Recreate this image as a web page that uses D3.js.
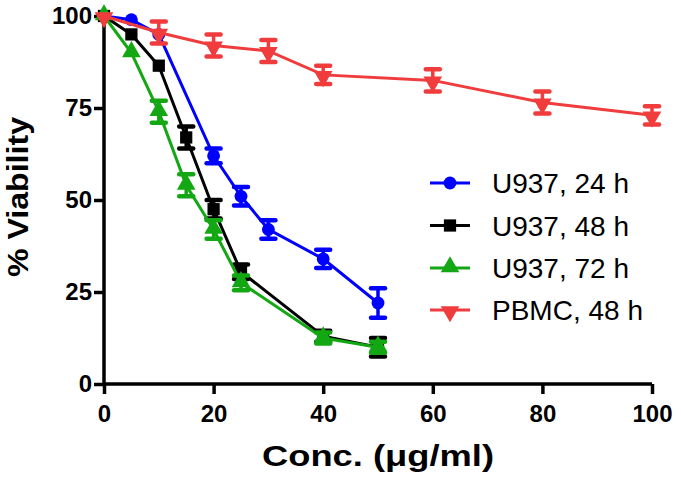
<!DOCTYPE html>
<html><head><meta charset="utf-8">
<script src="https://cdn.jsdelivr.net/npm/d3@7"></script>
<style>body{margin:0;background:#fff}svg{display:block}text{font-family:"Liberation Sans",Arial,sans-serif}</style>
</head><body>
<svg id="c" width="681" height="480"></svg>
<script>
const seriesNames = ["U937, 24 h", "U937, 48 h", "U937, 72 h", "PBMC, 48 h"];
const conc24 = [0, 5, 10, 20, 25, 30, 40, 50];
const via24 = [100, 99, 95, 62, 51, 42, 34, 22];
const err24 = [0, 0, 0, 2, 2.5, 2.5, 2.5, 4];
const conc48 = [0, 5, 10, 15, 20, 25, 40, 50];
const via48 = [100, 95, 86.5, 67, 47.5, 30.5, 13, 10];
const err48 = [0, 0, 0, 3, 2.5, 2, 1.5, 2.5];
const conc72 = [0, 5, 10, 15, 20, 25, 40, 50];
const via72 = [100, 90, 74, 54, 42, 27.5, 12.5, 10];
const err72 = [0, 0, 3, 3, 2.5, 2, 1.5, 1.5];
const concP = [0, 10, 20, 30, 40, 60, 80, 100];
const viaP = [100, 95.5, 92, 90.5, 84, 82.5, 76.5, 73];
const errP = [0, 3, 3, 3, 2.5, 3, 3, 2.5];
const xTicks = [0, 20, 40, 60, 80, 100];
const yTicks = [0, 25, 50, 75, 100];

const colors = ["#0000ff", "#000000", "#13a813", "#f03c3c"];
const symbols = [d3.symbolCircle, d3.symbolSquare, d3.symbolTriangle, d3.symbolTriangle];
const symSizes = [130, 150, 150, 150];
const rotations = [0, 0, 0, 180];

const svg = d3.select("#c");
const x = d3.scaleLinear().domain([0, 100]).range([104, 652]);
const y = d3.scaleLinear().domain([0, 100]).range([384, 16]);

const series = [
  {c: conc24, v: via24, e: err24},
  {c: conc48, v: via48, e: err48},
  {c: conc72, v: via72, e: err72},
  {c: concP, v: viaP, e: errP}
];

// axes
const xa = svg.append("g").attr("transform", "translate(0,384)")
  .call(d3.axisBottom(x).tickValues(xTicks).tickSize(10).tickPadding(11).tickFormat(d3.format("d")));
const ya = svg.append("g").attr("transform", "translate(104,0)")
  .call(d3.axisLeft(y).tickValues(yTicks).tickSize(10).tickPadding(2).tickFormat(d3.format("d")));
[xa, ya].forEach(a => {
  a.select(".domain").attr("stroke", "#000").attr("stroke-width", 3.5);
  a.selectAll(".tick line").attr("stroke", "#000").attr("stroke-width", 3.5);
  a.selectAll("text").attr("font-size", 24).attr("font-weight", "bold").attr("fill", "#000")
    .style("font-family", "'Liberation Sans', Arial, sans-serif");
});
xa.select(".domain").attr("d", "M104,0H652");
ya.select(".domain").attr("d", "M0,16V384");

svg.append("text").attr("x", 378).attr("y", 466).attr("text-anchor", "middle")
  .attr("font-size", 29).attr("font-weight", "bold")
  .attr("textLength", 232).attr("lengthAdjust", "spacingAndGlyphs").text("Conc. (\u03bcg/ml)");
svg.append("text").attr("transform", "translate(28,197) rotate(-90)").attr("text-anchor", "middle")
  .attr("font-size", 29).attr("font-weight", "bold")
  .attr("textLength", 160).attr("lengthAdjust", "spacingAndGlyphs").text("% Viability");

const line = d3.line().x(d => x(d[0])).y(d => y(d[1]));

series.forEach((s, i) => {
  const g = svg.append("g");
  const pts = s.c.map((c, j) => [c, s.v[j], s.e[j]]);
  g.append("path").attr("d", line(pts)).attr("fill", "none")
    .attr("stroke", colors[i]).attr("stroke-width", 3);
  pts.filter(p => p[2] > 0).forEach(p => {
    const px = x(p[0]);
    g.append("line").attr("x1", px).attr("x2", px).attr("y1", y(p[1] + p[2])).attr("y2", y(p[1] - p[2]))
      .attr("stroke", colors[i]).attr("stroke-width", 3.5);
    [p[1] + p[2], p[1] - p[2]].forEach(v => {
      g.append("line").attr("x1", px - 7).attr("x2", px + 7).attr("y1", y(v)).attr("y2", y(v))
        .attr("stroke", colors[i]).attr("stroke-width", 4.5).attr("stroke-linecap", "round");
    });
  });
  g.selectAll("path.m").data(pts).enter().append("path").attr("class", "m")
    .attr("d", d3.symbol().type(symbols[i]).size(symSizes[i]))
    .attr("transform", p => `translate(${x(p[0])},${y(p[1]) + (rotations[i] ? 1.5 : (symbols[i] === d3.symbolTriangle ? -1 : 0))}) rotate(${rotations[i]})`)
    .attr("fill", colors[i]);
});

// legend
const ly = [183, 225.5, 268, 310];
seriesNames.forEach((n, i) => {
  const g = svg.append("g").attr("transform", `translate(0,${ly[i]})`);
  g.append("line").attr("x1", 430).attr("x2", 470).attr("y1", 0).attr("y2", 0)
    .attr("stroke", colors[i]).attr("stroke-width", 3);
  g.append("path").attr("d", d3.symbol().type(symbols[i]).size(symSizes[i]))
    .attr("transform", `translate(450,${rotations[i] ? 1.5 : (symbols[i] === d3.symbolTriangle ? -1 : 0)}) rotate(${rotations[i]})`)
    .attr("fill", colors[i]);
  g.append("text").attr("x", 492).attr("y", 10).attr("font-size", 28).attr("fill", "#000").text(n);
});
</script>
</body></html>
